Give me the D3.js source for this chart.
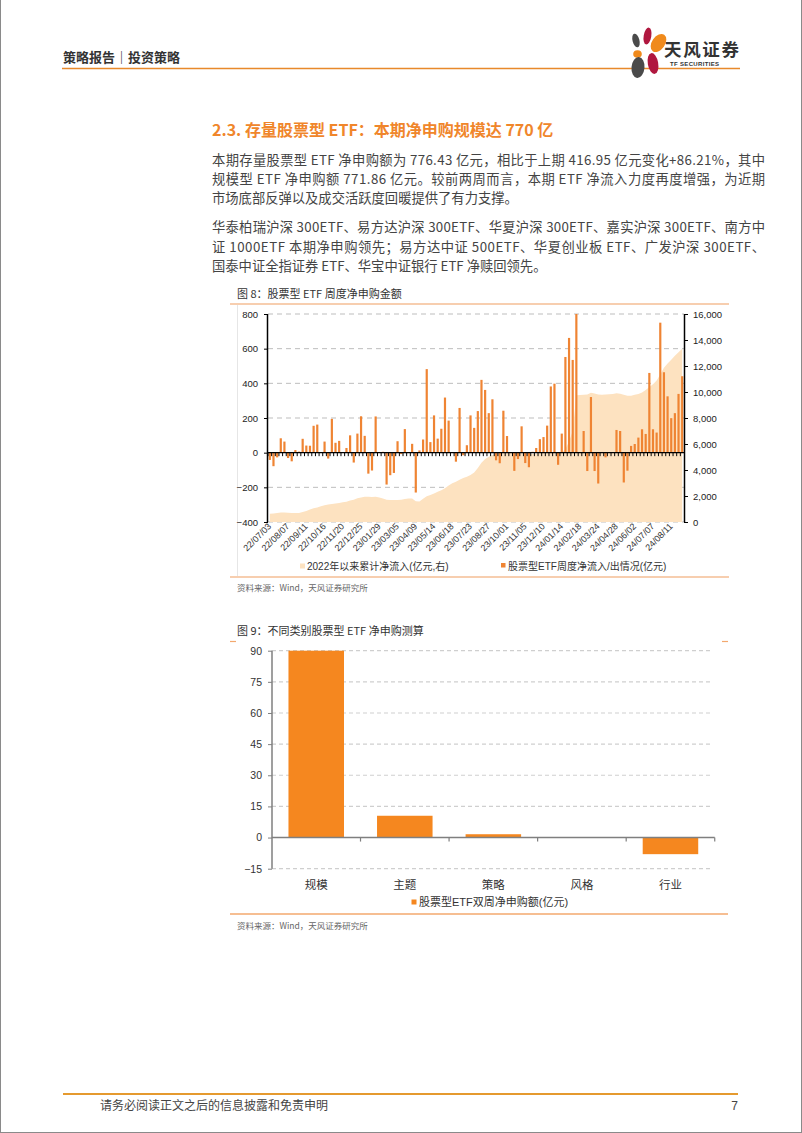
<!DOCTYPE html>
<html><head><meta charset="utf-8">
<script src="https://cdn.jsdelivr.net/npm/d3@7/dist/d3.min.js"></script>
<style>html,body{margin:0;padding:0;background:#fff}svg{display:block}</style>
</head><body>
<script>
// ---------- DATA ----------
const flowValues = [-42,-78,-27,83,64,-31,-50,15,6,80,41,40,155,162,2,64,-34,195,57,68,
3,27,100,-57,110,210,97,-121,-103,209,2,5,-184,-130,-117,66,-8,136,2,51,
-230,13,76,482,61,215,81,138,318,185,2,-52,258,-15,43,215,143,240,420,362,
228,308,-44,-61,242,96,2,-105,-37,152,-60,-84,5,27,78,90,156,382,398,-70,
110,552,662,535,800,3,125,-106,321,-106,-178,4,-27,2,3,131,125,-172,-104,39,
50,87,135,108,460,135,116,750,464,325,199,228,339,441];
const cumValues = [640,660,700,740,740,720,700,690,690,760,850,960,1050,1120,1220,1290,1340,1390,1430,1470,
1510,1560,1650,1720,1820,1890,1940,1950,1930,1940,1880,1800,1720,1690,1690,1700,1720,1760,1800,1810,
1600,1570,1780,1980,2080,2200,2330,2450,2600,2800,2980,3100,3250,3380,3480,3620,3800,4150,4550,4850,
5020,5150,5230,5280,5320,5330,5300,5280,5260,5280,5260,5230,5240,5260,5280,5300,5320,5360,5380,5350,
5380,5600,6200,7000,9750,9760,9780,9800,9950,9880,9800,9790,9800,9820,9850,9900,9870,9780,9720,9720,
9780,9850,9970,10150,10380,10600,10890,11350,11860,12200,12480,12780,13060,13320];
const weekTickLabels = ["22/07/03","22/08/07","22/09/11","22/10/16","22/11/20","22/12/25","23/01/29",
"23/03/05","23/04/09","23/05/14","23/06/18","23/07/23","23/08/27","23/10/01","23/11/05","23/12/10",
"24/01/14","24/02/18","24/03/24","24/04/28","24/06/02","24/07/07","24/08/11"];
const leftTicks = [-400,-200,0,200,400,600,800];
const rightTicks = [0,2000,4000,6000,8000,10000,12000,14000,16000];

const typeCategories = ["规模","主题","策略","风格","行业"];
const typeValues = [90,10.5,1.6,0,-8];
const typeTicks = [-15,0,15,30,45,60,75,90];

// ---------- SETUP ----------
const W = 802, H = 1133;
const svg = d3.select("body").append("svg").attr("width", W).attr("height", H);
const CJK = "'Noto Sans CJK SC','Noto Sans',sans-serif";
const ARIAL = "'Liberation Sans','Noto Sans CJK SC',Arial,sans-serif";

// page border
svg.append("rect").attr("x",0.5).attr("y",-2).attr("width",W-1).attr("height",H+1.5)
  .attr("fill","none").attr("stroke","#8a8a8a").attr("stroke-width",1);

// ---------- HEADER ----------
svg.append("text").attr("x",63).attr("y",62).attr("font-family",CJK).attr("font-size",13)
  .attr("font-weight","bold").attr("fill","#333").text("策略报告｜投资策略");
svg.append("line").attr("x1",62).attr("x2",740).attr("y1",68.5).attr("y2",68.5)
  .attr("stroke","#E8892B").attr("stroke-width",1.6);
// logo petals
const logo = svg.append("g");
const petals = [
  {cx:636,cy:40.5,rx:3.4,ry:7,rot:-15,c:"#4a4a4a"},
  {cx:647.5,cy:36,rx:3.8,ry:8.5,rot:10,c:"#B0173F"},
  {cx:658.5,cy:43,rx:6.5,ry:10,rot:35,c:"#F08A1C"},
  {cx:637.5,cy:54,rx:4.3,ry:3.8,rot:0,c:"#F08A1C"},
  {cx:638,cy:67.5,rx:6.5,ry:10.5,rot:5,c:"#4a4a4a"},
  {cx:653,cy:63.5,rx:5.2,ry:10.5,rot:-10,c:"#B0173F"}
];
petals.forEach(p=>logo.append("ellipse").attr("cx",p.cx).attr("cy",p.cy).attr("rx",p.rx).attr("ry",p.ry)
  .attr("transform",`rotate(${p.rot},${p.cx},${p.cy})`).attr("fill",p.c));
svg.append("text").attr("x",664).attr("y",55.5).attr("font-family",CJK).attr("font-size",17.5)
  .attr("font-weight","bold").attr("fill","#333").attr("textLength",75).text("天风证券");
svg.append("text").attr("x",670).attr("y",66).attr("font-family",ARIAL).attr("font-size",6)
  .attr("font-weight","bold").attr("fill","#333").attr("textLength",49).text("TF SECURITIES");

// ---------- BODY TEXT ----------
svg.append("text").attr("x",212).attr("y",136).attr("font-family",CJK).attr("font-size",16)
  .attr("font-weight","bold").attr("fill","#F0862B").text("2.3. 存量股票型 ETF：本期净申购规模达 770 亿");
const bodyLines = [
  {t:"本期存量股票型 ETF 净申购额为 776.43 亿元，相比于上期 416.95 亿元变化+86.21%，其中", y:165, j:true},
  {t:"规模型 ETF 净申购额 771.86 亿元。较前两周而言，本期 ETF 净流入力度再度增强，为近期", y:184, j:true},
  {t:"市场底部反弹以及成交活跃度回暖提供了有力支撑。", y:203, j:false},
  {t:"华泰柏瑞沪深 300ETF、易方达沪深 300ETF、华夏沪深 300ETF、嘉实沪深 300ETF、南方中", y:232, j:true},
  {t:"证 1000ETF 本期净申购领先；易方达中证 500ETF、华夏创业板 ETF、广发沪深 300ETF、", y:251.5, j:true},
  {t:"国泰中证全指证券 ETF、华宝中证银行 ETF 净赎回领先。", y:270.5, j:false}
];
bodyLines.forEach(l=>{
  const t = svg.append("text").attr("x",212).attr("y",l.y).attr("font-family",CJK).attr("font-size",13.3)
    .attr("fill","#444").text(l.t);
  if (l.j) t.attr("textLength",553).attr("lengthAdjust","spacing");
});

// ---------- CHART 1 ----------
const c1 = svg.append("g");
c1.append("text").attr("x",237).attr("y",298).attr("font-family",CJK).attr("font-size",11)
  .attr("fill","#333").text("图 8：股票型 ETF 周度净申购金额");
c1.append("line").attr("x1",230).attr("x2",729).attr("y1",304).attr("y2",304).attr("stroke","#F5BE94").attr("stroke-width",1.5);
c1.append("line").attr("x1",230).attr("x2",729).attr("y1",577).attr("y2",577).attr("stroke","#F5BE94").attr("stroke-width",1.5);
c1.append("line").attr("x1",237.5).attr("x2",237.5).attr("y1",305).attr("y2",576).attr("stroke","#e6e6e6").attr("stroke-width",1);

const startDate = new Date(2022,6,3);
const fmtW = d3.timeFormat("%y/%m/%d");
const weeks = flowValues.map((_,i)=>fmtW(d3.timeWeek.offset(startDate,i)));
const x1 = d3.scaleBand().domain(weeks).range([268,684]).paddingInner(0.4).paddingOuter(0.2);
const yL = d3.scaleLinear().domain([-400,800]).range([522,314]);
const yR = d3.scaleLinear().domain([0,16000]).range([522,314]);

// grid
c1.append("g").selectAll("line").data(leftTicks.filter(d=>d!==0)).join("line")
  .attr("x1",268).attr("x2",684).attr("y1",d=>yL(d)).attr("y2",d=>yL(d))
  .attr("stroke","#bdbdbd").attr("stroke-width",1).attr("stroke-dasharray","5,4");
// area
const area = d3.area().x((d,i)=>x1(weeks[i])+x1.bandwidth()/2).y0(yR(0)).y1(d=>yR(d));
c1.append("path").datum(cumValues).attr("d",area).attr("fill","#FDE2C0");
// bars
c1.append("g").selectAll("rect").data(flowValues).join("rect")
  .attr("x",(d,i)=>x1(weeks[i])).attr("width",x1.bandwidth())
  .attr("y",d=>yL(Math.max(0,d))).attr("height",d=>Math.abs(yL(d)-yL(0)))
  .attr("fill","#EF8433");
// zero line with ticks
c1.append("line").attr("x1",268).attr("x2",684).attr("y1",yL(0)).attr("y2",yL(0)).attr("stroke","#000").attr("stroke-width",1.3);
const step = x1.step();
c1.append("g").selectAll("line").data(weeks).join("line")
  .attr("x1",d=>x1(d)-step*x1.paddingInner()/2).attr("x2",d=>x1(d)-step*x1.paddingInner()/2)
  .attr("y1",yL(0)).attr("y2",yL(0)+3.5).attr("stroke","#000").attr("stroke-width",1);
// left axis
const axL = d3.axisLeft(yL).tickValues(leftTicks).tickSize(4).tickPadding(6);
const gL = c1.append("g").attr("transform","translate(268,0)").call(axL);
gL.select(".domain").attr("stroke","#000").attr("stroke-width",1.5).attr("d","M-0.5,314V522");
gL.selectAll(".tick line").attr("stroke","#000");
gL.selectAll(".tick text").attr("font-family",ARIAL).attr("font-size",9.5).attr("fill","#222");
// right axis
const axR = d3.axisRight(yR).tickValues(rightTicks).tickSize(4).tickPadding(5).tickFormat(d3.format(","));
const gR = c1.append("g").attr("transform","translate(684,0)").call(axR);
gR.select(".domain").attr("stroke","#000").attr("stroke-width",1.5).attr("d","M0.5,314V522");
gR.selectAll(".tick line").attr("stroke","#000");
gR.selectAll(".tick text").attr("font-family",ARIAL).attr("font-size",9.5).attr("fill","#222");
// x labels
c1.append("g").selectAll("text").data(weekTickLabels).join("text")
  .attr("transform",d=>`translate(${x1(d)+x1.bandwidth()/2+2},527) rotate(-45)`)
  .attr("text-anchor","end").attr("font-family",ARIAL).attr("font-size",9).attr("fill","#333").text(d=>d);
// legend
c1.append("rect").attr("x",300).attr("y",563.5).attr("width",5).attr("height",5).attr("fill","#FDE2C0");
c1.append("text").attr("x",307).attr("y",569.5).attr("font-family",ARIAL).attr("font-size",10).attr("fill","#333")
  .text("2022年以来累计净流入(亿元,右)");
c1.append("rect").attr("x",501).attr("y",563).attr("width",4.5).attr("height",4.5).attr("fill","#EF8433");
c1.append("text").attr("x",508).attr("y",569.5).attr("font-family",ARIAL).attr("font-size",10).attr("fill","#333")
  .text("股票型ETF周度净流入/出情况(亿元)");
c1.append("text").attr("x",237).attr("y",590.5).attr("font-family",CJK).attr("font-size",8.5).attr("fill","#666")
  .text("资料来源：Wind，天风证券研究所");

// ---------- CHART 2 ----------
const c2 = svg.append("g");
c2.append("text").attr("x",237).attr("y",634.5).attr("font-family",CJK).attr("font-size",11)
  .attr("fill","#333").text("图 9：不同类别股票型 ETF 净申购测算");
c2.append("line").attr("x1",230).attr("x2",236).attr("y1",641.5).attr("y2",641.5).attr("stroke","#F3A86E").attr("stroke-width",1.2);
c2.append("line").attr("x1",722).attr("x2",728).attr("y1",641.5).attr("y2",641.5).attr("stroke","#F3A86E").attr("stroke-width",1.2);
c2.append("line").attr("x1",230).attr("x2",728).attr("y1",914).attr("y2",914).attr("stroke","#F3A86E").attr("stroke-width",1.5);

const x2 = d3.scaleBand().domain(typeCategories).range([272,714.7]).paddingInner(0.373).paddingOuter(0.186);
const y2 = d3.scaleLinear().domain([-15,90]).range([868.7,650.7]);
c2.append("g").selectAll("line").data(typeTicks.filter(d=>d!==0)).join("line")
  .attr("x1",272).attr("x2",711).attr("y1",d=>y2(d)).attr("y2",d=>y2(d))
  .attr("stroke","#cfcfcf").attr("stroke-width",1.2).attr("stroke-dasharray","4,3");
c2.append("g").selectAll("rect").data(typeValues).join("rect")
  .attr("x",(d,i)=>x2(typeCategories[i])).attr("width",x2.bandwidth())
  .attr("y",d=>y2(Math.max(0,d))).attr("height",d=>Math.abs(y2(d)-y2(0)))
  .attr("fill","#F5871F");
const ax2 = d3.axisLeft(y2).tickValues(typeTicks).tickSize(4).tickPadding(6);
const g2 = c2.append("g").attr("transform","translate(272,0)").call(ax2);
g2.select(".domain").attr("stroke","#7f7f7f").attr("stroke-width",1.5).attr("d","M0,650.7V868.7");
g2.selectAll(".tick line").attr("stroke","#7f7f7f");
g2.selectAll(".tick text").attr("font-family",ARIAL).attr("font-size",10.5).attr("fill","#333");
// zero axis
c2.append("line").attr("x1",272).attr("x2",714.7).attr("y1",y2(0)).attr("y2",y2(0)).attr("stroke","#7f7f7f").attr("stroke-width",1.5);
const s2 = x2.step();
c2.append("g").selectAll("line").data(typeCategories).join("line")
  .attr("x1",d=>x2(d)+x2.bandwidth()+s2*x2.paddingInner()/2).attr("x2",d=>x2(d)+x2.bandwidth()+s2*x2.paddingInner()/2)
  .attr("y1",y2(0)).attr("y2",y2(0)+4).attr("stroke","#7f7f7f").attr("stroke-width",1.2);
c2.append("g").selectAll("text").data(typeCategories).join("text")
  .attr("x",d=>x2(d)+x2.bandwidth()/2).attr("y",888.5).attr("text-anchor","middle")
  .attr("font-family",CJK).attr("font-size",11.5).attr("fill","#333").text(d=>d);
c2.append("rect").attr("x",411.5).attr("y",899.5).attr("width",5).attr("height",5).attr("fill","#F5871F");
c2.append("text").attr("x",419).attr("y",906).attr("font-family",ARIAL).attr("font-size",11).attr("fill","#333")
  .text("股票型ETF双周净申购额(亿元)");
c2.append("text").attr("x",237).attr("y",928.5).attr("font-family",CJK).attr("font-size",8.5).attr("fill","#666")
  .text("资料来源：Wind，天风证券研究所");

// ---------- FOOTER ----------
svg.append("line").attr("x1",63).attr("x2",738).attr("y1",1094).attr("y2",1094).attr("stroke","#E59A2F").attr("stroke-width",2);
svg.append("text").attr("x",100).attr("y",1109.5).attr("font-family",CJK).attr("font-size",12).attr("fill","#444")
  .text("请务必阅读正文之后的信息披露和免责申明");
svg.append("text").attr("x",738).attr("y",1109.5).attr("text-anchor","end").attr("font-family",ARIAL).attr("font-size",12).attr("fill","#444").text("7");
</script>
</body></html>
